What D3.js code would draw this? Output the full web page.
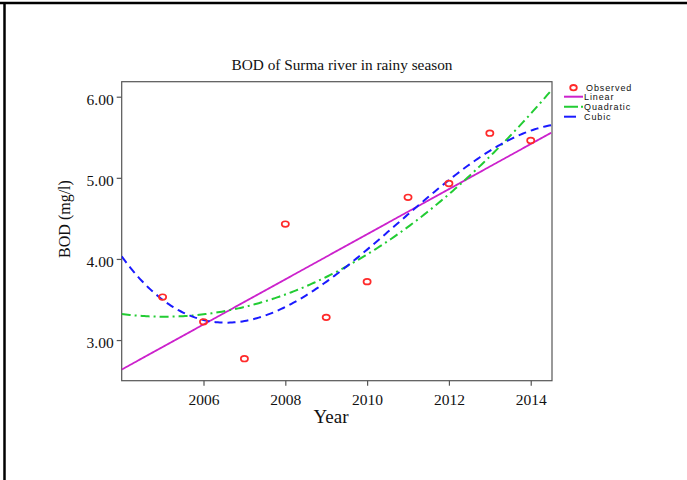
<!DOCTYPE html>
<html><head><meta charset="utf-8">
<script src="https://cdn.jsdelivr.net/npm/d3@7/dist/d3.min.js"></script>
<style>body{margin:0;background:#fff}svg{display:block}</style>
</head><body>
<svg id="chart" width="687" height="480"></svg>
<script>
// ---- data ----
const years = [2005, 2006, 2007, 2008, 2009, 2010, 2011, 2012, 2013, 2014];
const bod = [3.53, 3.225, 2.77, 4.43, 3.28, 3.72, 4.76, 4.93, 5.55, 5.46];
const xTicks = [2006, 2008, 2010, 2012, 2014];
const yTicks = [3, 4, 5, 6];
const legendLabels = ["Observed", "Linear", "Quadratic", "Cubic"];
const fitDegrees = [1, 2, 3];

const svg = d3.select("#chart");
const L = 121.7, R = 552, T = 81.7, B = 380.7;
const x = d3.scaleLinear().domain([2004, 2014.52]).range([L, R]);
const y = d3.scaleLinear().domain([2.499, 6.185]).range([B, T]);

// least squares polynomial fit
function polyfit(xs, ys, deg) {
  const x0 = d3.mean(xs);
  const n = deg + 1;
  const A = Array.from({length: n}, () => new Array(n + 1).fill(0));
  xs.forEach((xv, k) => {
    const t = xv - x0;
    for (let i = 0; i < n; i++) {
      for (let j = 0; j < n; j++) A[i][j] += Math.pow(t, i + j);
      A[i][n] += Math.pow(t, i) * ys[k];
    }
  });
  for (let c = 0; c < n; c++) {
    let p = c;
    for (let r = c + 1; r < n; r++) if (Math.abs(A[r][c]) > Math.abs(A[p][c])) p = r;
    [A[c], A[p]] = [A[p], A[c]];
    for (let r = 0; r < n; r++) {
      if (r === c) continue;
      const f = A[r][c] / A[c][c];
      for (let k = c; k <= n; k++) A[r][k] -= f * A[c][k];
    }
  }
  const coef = A.map((row, i) => row[n] / row[i]);
  return v => coef.reduce((s, cf, i) => s + cf * Math.pow(v - x0, i), 0);
}

// outer frame (top and left)
svg.append("line").attr("x1", 0).attr("x2", 687).attr("y1", 3).attr("y2", 3)
  .attr("stroke", "#000").attr("stroke-width", 2.5);
svg.append("line").attr("x1", 4.5).attr("x2", 4.5).attr("y1", 2).attr("y2", 480)
  .attr("stroke", "#000").attr("stroke-width", 2.5);

// clip
svg.append("clipPath").attr("id", "clip").append("rect")
  .attr("x", L).attr("y", T).attr("width", R - L).attr("height", B - T);

// plot box
svg.append("rect").attr("x", L).attr("y", T).attr("width", R - L).attr("height", B - T)
  .attr("fill", "none").attr("stroke", "#555").attr("stroke-width", 1.2);

// axes
const serif = "'Liberation Serif', 'Times New Roman', serif";
const xAxis = svg.append("g").attr("transform", `translate(0,${B})`)
  .call(d3.axisBottom(x).tickValues(xTicks).tickFormat(d3.format("d")).tickSize(5).tickPadding(8));
const yAxis = svg.append("g").attr("transform", `translate(${L},0)`)
  .call(d3.axisLeft(y).tickValues(yTicks).tickFormat(d3.format(".2f")).tickSize(5).tickPadding(3));
[xAxis, yAxis].forEach(g => {
  g.select(".domain").remove();
  g.selectAll(".tick line").attr("stroke", "#555").attr("stroke-width", 1.2);
  g.selectAll(".tick text").attr("font-family", serif).attr("font-size", 15.5).attr("fill", "#111");
});
yAxis.selectAll(".tick text").attr("dy", "0.5em");

// fit curves
const sample = d3.range(2004, 2014.53, 0.05);
const fitStyles = [
  {color: "#cc22cc", dash: null, width: 1.8},
  {color: "#22cc33", dash: "9,4,2,4", width: 2},
  {color: "#1a1aff", dash: "8,5", width: 2}
];
const line = d3.line().x(d => x(d[0])).y(d => y(d[1]));
const plot = svg.append("g").attr("clip-path", "url(#clip)");
fitDegrees.forEach((deg, i) => {
  const f = polyfit(years, bod, deg);
  plot.append("path").datum(sample.map(v => [v, f(v)]))
    .attr("d", line).attr("fill", "none")
    .attr("stroke", fitStyles[i].color).attr("stroke-width", fitStyles[i].width)
    .attr("stroke-dasharray", fitStyles[i].dash);
});

// observed points
svg.append("g").selectAll("ellipse").data(years).join("ellipse")
  .attr("cx", d => x(d)).attr("cy", (d, i) => y(bod[i]))
  .attr("rx", 3.6).attr("ry", 2.8)
  .attr("fill", "none").attr("stroke", "#ff2a2a").attr("stroke-width", 1.7);

// title and axis labels
svg.append("text").attr("x", 342).attr("y", 70).attr("text-anchor", "middle")
  .attr("font-family", serif).attr("font-size", 15.3).attr("fill", "#111")
  .text("BOD of Surma river in rainy season");
svg.append("text").attr("x", 331).attr("y", 423).attr("text-anchor", "middle")
  .attr("font-family", serif).attr("font-size", 19).attr("fill", "#111").text("Year");
svg.append("text").attr("transform", "translate(70,219) rotate(-90)").attr("text-anchor", "middle")
  .attr("font-family", serif).attr("font-size", 16).attr("fill", "#111").text("BOD (mg/l)");

// legend
const lg = svg.append("g");
const ly = [87.7, 96.7, 106.7, 116.7];
const sans = "'Liberation Sans', Arial, sans-serif";
lg.append("ellipse").attr("cx", 573.5).attr("cy", ly[0]).attr("rx", 3.3).attr("ry", 2.7)
  .attr("fill", "none").attr("stroke", "#ff2a2a").attr("stroke-width", 1.8);
fitStyles.forEach((s, i) => {
  lg.append("line").attr("x1", 564).attr("x2", i === 2 ? 576 : 583)
    .attr("y1", ly[i + 1]).attr("y2", ly[i + 1])
    .attr("stroke", s.color).attr("stroke-width", 2)
    .attr("stroke-dasharray", i === 1 ? "14,3,2,3" : null);
});
legendLabels.forEach((t, i) => {
  lg.append("text").attr("x", i === 0 ? 586 : 584).attr("y", ly[i] + 3)
    .attr("font-family", sans).attr("font-size", 9).attr("letter-spacing", 0.9)
    .attr("fill", "#111").text(t);
});
</script>
</body></html>
